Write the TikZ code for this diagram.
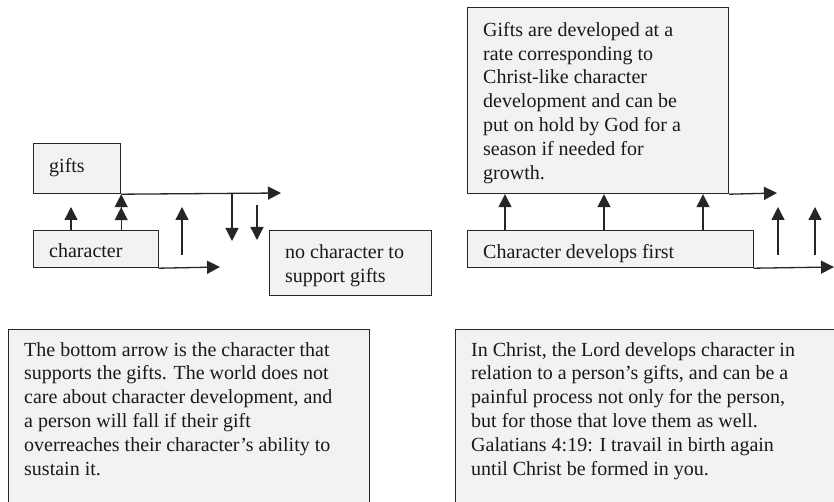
\documentclass[tikz,border=0pt]{standalone}
\usepackage{fontspec}
\setmainfont{Liberation Serif}
\usetikzlibrary{arrows.meta,positioning}

\begin{document}
\begin{tikzpicture}
  [x=1pt,y=-1pt,
   box/.style={draw=black!85,fill=black!5,line width=1.2pt,anchor=north west,inner sep=0pt},
   txt/.style={inner sep=0pt,align=left,text=black!90,font=\fontsize{20}{23.8}\selectfont},
   arr/.style={draw=black!85,line width=1.3pt,-{Triangle[length=13pt,width=13pt]}}]
  \useasboundingbox (0,0) rectangle (834,502);

  % left diagram
  \node[box,minimum width=87pt,minimum height=50pt]   (gifts) at (33,143) {};
  \node[box,minimum width=124.5pt,minimum height=37pt] (chars) at (33,230) {};
  \node[box,minimum width=161.5pt,minimum height=65pt] (nochar) at (269,230) {};
  \node[txt,below right=15pt and 16pt of gifts.north west]  (giftstxt) {gifts};
  \node[txt,below right=13pt and 16pt of chars.north west]  (charstxt) {character};
  \node[txt,below right=14.5pt and 16pt of nochar.north west] (nochartxt) {no character to\\support gifts};

  \coordinate (gend) at (281,193);
  \coordinate (cend) at (220,267);
  \coordinate (u1) at (71,207);
  \coordinate (u3s) at (182,255);
  \coordinate (u3e) at (182,207);
  \coordinate (d1s) at (232,193);
  \coordinate (d1e) at (232,241);
  \coordinate (d2s) at (257,205);
  \coordinate (d2e) at (257,240);

  \draw[arr] (gifts.south east) -- (gend);
  \draw[arr] (chars.south east) -- (cend);
  \draw[arr] (u1 |- chars.north) -- (u1);
  \draw[draw=black!85,line width=1.3pt,
        -{Triangle[length=13pt,width=13pt] Triangle[length=13pt,width=13pt]}]
        (gifts.south east |- chars.north) -- (gifts.south east);
  \draw[arr] (u3s) -- (u3e);
  \draw[arr] (d1s) -- (d1e);
  \draw[arr] (d2s) -- (d2e);

  % right diagram
  \node[box,minimum width=261pt,minimum height=186pt]  (growth) at (467,7) {};
  \node[box,minimum width=285.5pt,minimum height=37pt] (dev) at (467,230) {};
  \node[txt,below right=15pt and 16pt of growth.north west] (growthtxt)
    {Gifts are developed at a\\rate corresponding to\\Christ-like character\\development and can be\\put on hold by God for a\\season if needed for\\growth.};
  \node[txt,below right=14.5pt and 16pt of dev.north west] (devtxt) {Character develops first};

  \coordinate (Gend) at (777,193);
  \coordinate (Cend) at (834,267);
  \coordinate (r1s) at (778,255);
  \coordinate (r1e) at (778,207);
  \coordinate (r2s) at (815,255);
  \coordinate (r2e) at (815,207);

  \draw[arr] (growth.south east) -- (Gend);
  \draw[arr] (dev.south east) -- (Cend);
  \foreach \x in {505,604,703}
    \draw[arr] (\x,0 |- dev.north) -- (\x,0 |- growth.south);
  \draw[arr] (r1s) -- (r1e);
  \draw[arr] (r2s) -- (r2e);

  % notes
  \node[box,minimum width=360.5pt,minimum height=200pt] (lnote) at (8,329) {};
  \node[box,minimum width=400pt,minimum height=200pt]   (rnote) at (455,329) {};
  \node[txt,below right=13pt and 16pt of lnote.north west] (lnotetxt)
    {The bottom arrow is the character that\\supports the gifts. The world does not\\care about character development, and\\a person will fall if their gift\\overreaches their character's ability to\\sustain it.};
  \node[txt,below right=13pt and 16pt of rnote.north west] (rnotetxt)
    {In Christ, the Lord develops character in\\relation to a person's gifts, and can be a\\painful process not only for the person,\\but for those that love them as well.\\Galatians 4:19: I travail in birth again\\until Christ be formed in you.};

\end{tikzpicture}
\end{document}
